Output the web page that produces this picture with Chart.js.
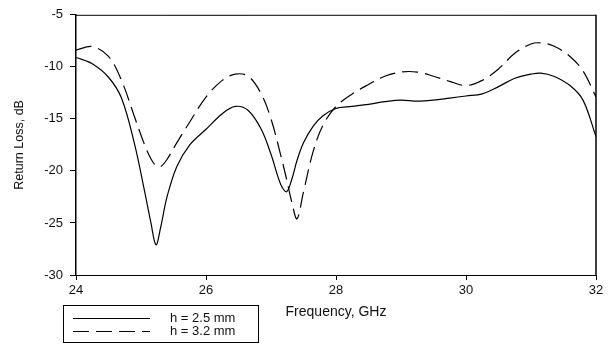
<!DOCTYPE html>
<html>
<head>
<meta charset="utf-8">
<script src="https://cdn.jsdelivr.net/npm/chart.js@4.4.1/dist/chart.umd.min.js"></script>
<style>
  body { margin: 0; background: #fff; }
  #wrap { width: 609px; height: 345px; }
</style>
</head>
<body>
<div id="wrap"><canvas id="chart"></canvas></div>
<script>
// Frequency points (GHz)
const freq = [24, 24.25, 24.5, 24.7, 24.9, 25.05, 25.15, 25.23, 25.3, 25.4, 25.55, 25.75,
  26, 26.25, 26.45, 26.65, 26.85, 27, 27.15, 27.24, 27.32, 27.4, 27.5, 27.65, 27.8,
  28, 28.25, 28.5, 28.75, 29, 29.25, 29.5, 29.75, 30, 30.25, 30.5, 30.75, 31, 31.15,
  31.35, 31.6, 31.8, 32];

// Return loss (dB) for h = 2.5 mm (solid)
const rl25 = [-9.1, -9.7, -11.0, -13.0, -17.4, -21.8, -24.9, -27.1, -25.5, -22.5, -19.6, -17.5,
  -16.0, -14.5, -13.8, -14.2, -16.0, -18.4, -21.3, -22.0, -20.8, -19.0, -17.3, -15.7, -14.7,
  -14.0, -13.8, -13.6, -13.35, -13.2, -13.3, -13.2, -13.0, -12.8, -12.6, -11.9, -11.1, -10.7, -10.6,
  -10.9, -11.8, -13.2, -16.7];

// Return loss (dB) for h = 3.2 mm (dashed)
const rl32 = [-8.4, -8.05, -9.0, -11.3, -14.8, -17.4, -18.8, -19.5, -19.6, -18.9, -17.3, -15.3,
  -12.9, -11.3, -10.7, -10.9, -12.6, -15.0, -18.5, -20.8, -23.0, -24.6, -22.0, -18.1, -15.6,
  -13.8, -12.6, -11.7, -10.9, -10.5, -10.5, -10.9, -11.4, -11.8, -11.3, -10.2, -8.7, -7.8, -7.7,
  -8.0, -9.0, -10.4, -12.9];

const seriesLabels = ['h = 2.5 mm', 'h = 3.2 mm'];
const xTicks = [24, 26, 28, 30, 32];
const yTicks = [-30, -25, -20, -15, -10, -5];

const toPoints = (ys) => ys.map((y, i) => ({ x: freq[i], y: y }));
const txt = '#111';
const fontFam = '"Liberation Sans", Arial, sans-serif';

// frame around the plot area + legend box below
const framePlugin = {
  id: 'frame',
  afterDraw(chart) {
    const { ctx, chartArea: a } = chart;
    ctx.save();
    ctx.strokeStyle = '#000';
    ctx.lineWidth = 1;
    ctx.beginPath();
    ctx.moveTo(a.left, a.top + 0.5);
    ctx.lineTo(a.right, a.top + 0.5);
    ctx.stroke();
    ctx.lineWidth = 1.5;
    ctx.beginPath();
    ctx.moveTo(a.right, a.top);
    ctx.lineTo(a.right, a.bottom);
    ctx.stroke();

    // legend
    ctx.lineWidth = 1;
    ctx.strokeRect(63.5, 305.5, 195, 37);
    const rows = [318, 331];
    chart.data.datasets.forEach((ds, i) => {
      ctx.beginPath();
      ctx.setLineDash(ds.borderDash || []);
      ctx.lineWidth = 1.2;
      ctx.moveTo(73, rows[i] + 0.5);
      ctx.lineTo(150, rows[i] + 0.5);
      ctx.stroke();
      ctx.setLineDash([]);
      ctx.fillStyle = txt;
      ctx.font = '13px ' + fontFam;
      ctx.textBaseline = 'middle';
      ctx.fillText(ds.label, 170, rows[i]);
    });
    ctx.restore();
  }
};

new Chart(document.getElementById('chart'), {
  type: 'line',
  data: {
    datasets: [{
      label: seriesLabels[0],
      data: toPoints(rl25),
      borderColor: '#000',
      borderWidth: 1.2,
      pointRadius: 0,
      tension: 0.35
    }, {
      label: seriesLabels[1],
      data: toPoints(rl32),
      borderColor: '#000',
      borderWidth: 1.2,
      borderDash: [16, 7],
      pointRadius: 0,
      tension: 0.35
    }]
  },
  options: {
    responsive: true,
    maintainAspectRatio: false,
    animation: false,
    layout: { padding: { top: 11, right: 13, left: 0, bottom: 0 } },
    plugins: { legend: { display: false }, tooltip: { enabled: false } },
    scales: {
      x: {
        type: 'linear',
        min: 24, max: 32,
        afterFit: (s) => { s.height = 70; },
        afterBuildTicks: (s) => { s.ticks = xTicks.map(v => ({ value: v })); },
        grid: { drawOnChartArea: false, drawTicks: true, tickLength: 5, color: '#000' },
        border: { display: true, color: '#000', width: 1 },
        ticks: { color: txt, padding: 3, maxRotation: 0, font: { family: fontFam, size: 13 } },
        title: {
          display: true, text: 'Frequency, GHz', color: txt,
          font: { family: fontFam, size: 14 }, padding: { top: 0, bottom: 24 }
        }
      },
      y: {
        min: -30, max: -5,
        afterFit: (s) => { s.width = 76; },
        afterBuildTicks: (s) => { s.ticks = yTicks.map(v => ({ value: v })); },
        grid: { drawOnChartArea: false, drawTicks: true, tickLength: 6, color: '#000' },
        border: { display: true, color: '#000', width: 1.5 },
        ticks: { color: txt, padding: 7, font: { family: fontFam, size: 13 } },
        title: {
          display: true, text: 'Return Loss, dB', color: txt,
          font: { family: fontFam, size: 12.5 }, padding: { top: 12, bottom: 0 }
        }
      }
    }
  },
  plugins: [framePlugin]
});
</script>
</body>
</html>
